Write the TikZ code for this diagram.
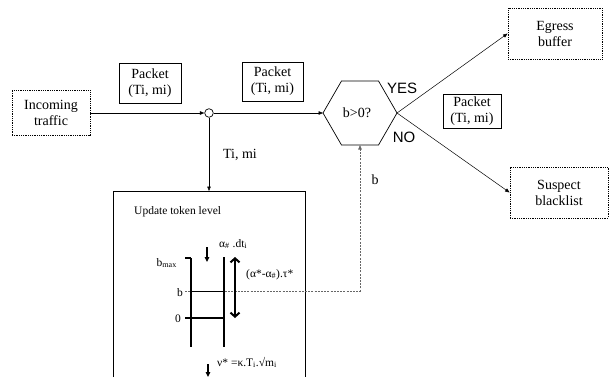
\documentclass[tikz,border=0pt]{standalone}
\usepackage{fontspec}
\setmainfont{Liberation Serif}
\newfontfamily\arialfont{Liberation Sans}
\usetikzlibrary{shapes.geometric,arrows.meta}
\begin{document}
\begin{tikzpicture}[x=1pt,y=-1pt,
  txt/.style={font=\fontsize{14}{16}\selectfont, align=center, inner sep=0pt},
  small/.style={font=\fontsize{11.5}{13}\selectfont, inner sep=0pt},
  dotbox/.style={txt, draw, densely dotted, line width=0.8pt},
  pbox/.style={txt, draw, line width=0.7pt},
  conn/.style={line width=0.5pt, -{Triangle[length=4.5pt,width=3.5pt]}},
  dashline/.style={gray!80!black, line width=0.6pt, dash pattern=on 2pt off 1.2pt, -{Triangle[length=4.5pt,width=3.5pt]}},
  rail/.style={line width=2.4pt},
  yn/.style={font=\arialfont\fontsize{15}{17}\selectfont, inner sep=0pt}
]
\useasboundingbox (0,0) rectangle (609,377);

% main nodes
\node[dotbox, minimum width=78pt, minimum height=45pt] (inc) at (51,113) {Incoming\\traffic};
\node[pbox, minimum width=62pt, minimum height=40pt] (p1) at (150,83) {Packet\\(Ti, mi)};
\node[pbox, minimum width=61pt, minimum height=39pt] (p2) at (272.5,81.5) {Packet\\(Ti, mi)};
\node[pbox, minimum width=58pt, minimum height=34pt] (p3) at (472,111.5) {Packet\\(Ti, mi)};
\node[dotbox, minimum width=94pt, minimum height=51pt] (egr) at (555,33.5) {Egress\\buffer};
\node[dotbox, minimum width=98pt, minimum height=51pt] (sus) at (559,192.5) {Suspect\\blacklist};
\node[draw, line width=0.7pt, regular polygon, regular polygon sides=6, minimum size=74pt, inner sep=0pt, outer sep=0pt] (hex) at (360,113) {};
\node[txt] (cond) at (357,113) {b>0?};
\node[draw, circle, line width=0.7pt, fill=white, minimum size=8.6pt, inner sep=0pt] (junc) at (209,113) {};
\node[draw=none, minimum width=192pt, minimum height=186pt, anchor=north west, inner sep=0pt, outer sep=0pt] (upd) at (113,191) {};
\draw[line width=0.7pt] (upd.south west) -- (upd.north west) -- (upd.north east) -- (upd.south east);

% labels
\node[yn] (yes) at (402,88) {YES};
\node[yn] (no) at (404,137) {NO};
\node[txt] (timi) at (240,155) {Ti, mi};
\node[txt] (blab) at (375,180) {b};

% connectors
\draw[conn] (inc.east) -- (junc.west);
\draw[conn] (junc.east) -- (hex.west);
\draw[conn] (junc.south) -- (upd.north -| junc.south);
\draw[conn] (hex.east) -- (egr.west);
\draw[conn] (hex.east) -- (sus.west);

% token bucket
\node[small, anchor=west] (title) at (134,212) {Update token level};
\draw[rail] (191,258) -- (191,347);
\draw[rail] (224,257) -- (224,347);
\draw[line width=1.3pt] (185,258) -- (191,258);
\draw[rail] (185,318) -- (224,318);
\draw[line width=0.6pt] (191,291) -- (224,291);
\draw[gray!80!black, line width=0.6pt, dash pattern=on 2pt off 1.2pt] (185,291) -- (190,291);
\coordinate (bl) at (225,291);
\coordinate (bc) at (360,291);
\draw[dashline] (bl) -- (bc) -- (hex.south);

\node[small, anchor=base east] (bmax) at (177,266) {b\textsubscript{max}};
\node[small, anchor=base] (bb) at (180,296) {b};
\node[small, anchor=base] (zero) at (178,322) {0};
\node[small, anchor=base west] (inflow) at (219,247) {α\textsubscript{\#} .dt\textsubscript{i}};
\node[small, anchor=base west] (cap) at (246,277) {(α*-α\textsubscript{\#}).τ*};
\node[small, anchor=base west] (outflow) at (217,366) {ν* =κ.T\textsubscript{i}.√m\textsubscript{i}};

\draw[line width=1.2pt, -{Triangle[length=5pt,width=4.5pt]}] (207,247) -- (207,262);
\draw[line width=1.2pt, -{Triangle[length=5pt,width=4.5pt]}] (208,364) -- (208,377);
\draw[line width=2pt, {Straight Barb[length=4pt,width=9pt,line width=2pt]}-{Straight Barb[length=4pt,width=9pt,line width=2pt]}] (235,257) -- (235,318);
\end{tikzpicture}
\end{document}
